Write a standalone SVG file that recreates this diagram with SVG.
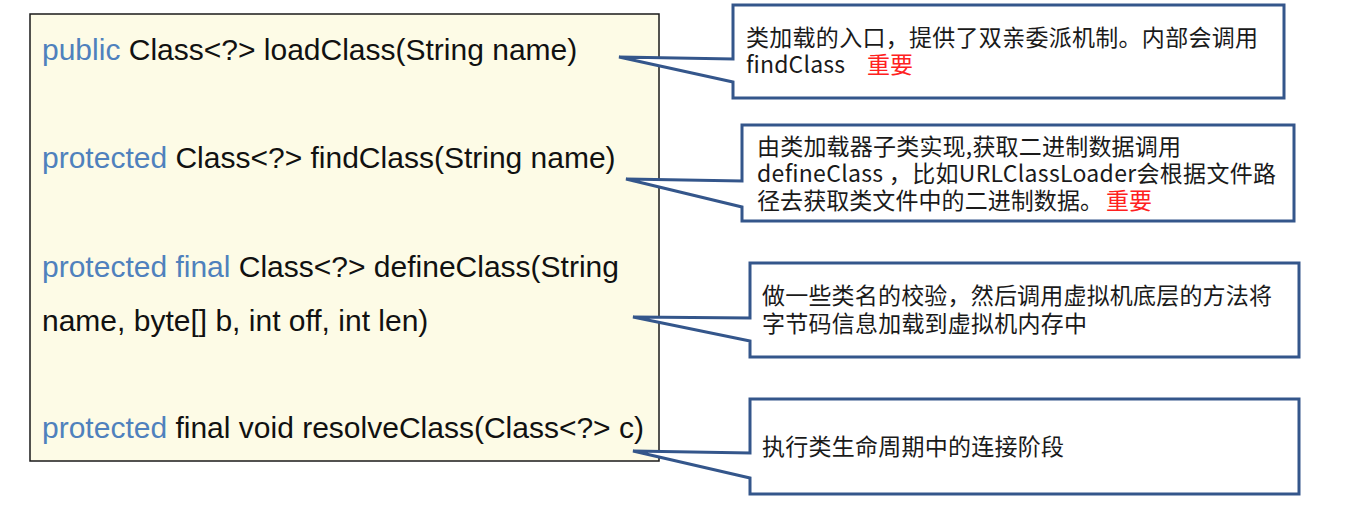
<svg xmlns="http://www.w3.org/2000/svg" width="1345" height="507" viewBox="0 0 1345 507">
  <style>
    .code { font-family: "Liberation Sans", Arial, sans-serif; font-size: 30px; fill: #111; }
    .kw { fill: #4F81BD; }
    .note { font-family: "Noto Sans CJK SC", "Microsoft YaHei", sans-serif; font-size: 23px; fill: #1a1a1a; }
    .red { fill: #FF2020; }
    .callout { fill: #FFFFFF; stroke: #34568B; stroke-width: 3; stroke-linejoin: miter; }
  </style>
  <rect width="1345" height="507" fill="#FFFFFF"/>

  <g id="methods">
    <rect x="30" y="14" width="629" height="447" fill="#FDFBE6" stroke="#1a1a1a" stroke-width="1.5"/>
    <text class="code" x="42" y="60"><tspan class="kw">public</tspan> Class&lt;?&gt; loadClass(String name)</text>
    <text class="code" x="42" y="168"><tspan class="kw">protected</tspan> Class&lt;?&gt; findClass(String name)</text>
    <text class="code" x="42" y="277"><tspan class="kw">protected final</tspan> Class&lt;?&gt; defineClass(String</text>
    <text class="code" x="42" y="331">name, byte[] b, int off, int len)</text>
    <text class="code" x="42" y="438"><tspan class="kw">protected</tspan> final void resolveClass(Class&lt;?&gt; c)</text>
  </g>

  <g id="connectors">
    <!-- callout pointers are part of the callout shapes -->
  </g>

  <g id="note-loadClass">
    <path class="callout" d="M733,5 H1284 V98 H733 V82 L619,57 L733,59 Z"/>
    <text class="note"><tspan x="746" y="46" textLength="512">类加载的入口，提供了双亲委派机制。内部会调用</tspan><tspan x="746" y="73" textLength="99">findClass</tspan><tspan class="red" x="867" y="73" textLength="46">重要</tspan></text>
  </g>

  <g id="note-findClass">
    <path class="callout" d="M742,125 H1294 V221 H742 V207 L626,179 L742,181 Z"/>
    <text class="note"><tspan x="757" y="155" textLength="424">由类加载器子类实现,获取二进制数据调用</tspan><tspan x="757" y="182" textLength="519">defineClass ，比如URLClassLoader会根据文件路</tspan><tspan x="757" y="209" textLength="346">径去获取类文件中的二进制数据。</tspan><tspan class="red" x="1106" y="209" textLength="46">重要</tspan></text>
  </g>

  <g id="note-defineClass">
    <path class="callout" d="M750,263 H1299 V357 H750 V341 L633,317 L750,318 Z"/>
    <text class="note"><tspan x="762" y="304" textLength="510">做一些类名的校验，然后调用虚拟机底层的方法将</tspan><tspan x="762" y="332" textLength="325">字节码信息加载到虚拟机内存中</tspan></text>
  </g>

  <g id="note-resolveClass">
    <path class="callout" d="M750,399 H1299 V494 H750 V478 L633,451 L750,453 Z"/>
    <text class="note" x="762" y="455" textLength="302">执行类生命周期中的连接阶段</text>
  </g>
</svg>
